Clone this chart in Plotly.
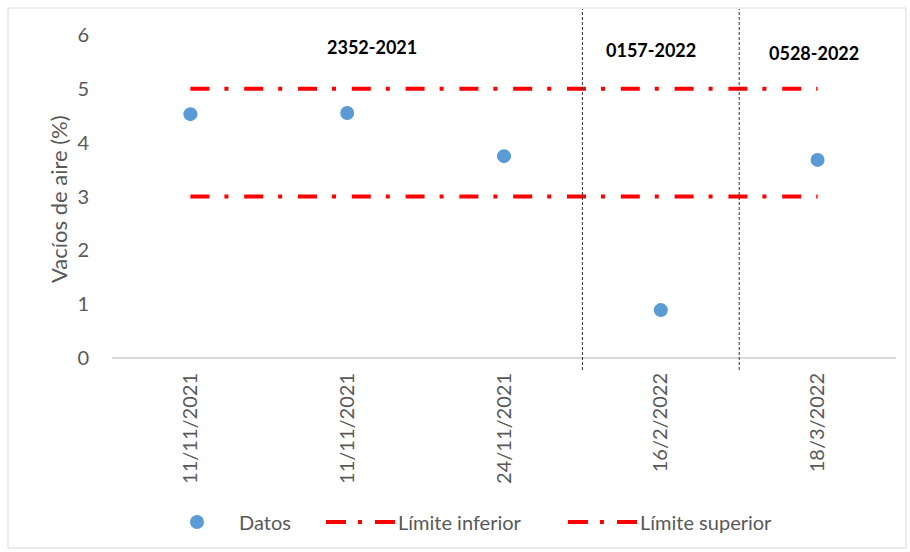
import plotly.graph_objects as go

# Fechas de ensayo (dos muestras del mismo día) y vacíos de aire medidos
fechas = ["11/11/2021", "11/11/2021", "24/11/2021", "16/2/2022", "18/3/2022"]
vacios = [4.53, 4.55, 3.75, 0.89, 3.68]
limite_inferior = [3, 3, 3, 3, 3]
limite_superior = [5, 5, 5, 5, 5]

# Contratos y su posición (centro del texto) sobre el eje de categorías
contratos = ["2352-2021", "0157-2022", "0528-2022"]
contrato_x = [1.16, 2.94, 3.98]
contrato_y = [5.78, 5.72, 5.66]
separadores = [2.5, 3.5]

W, H = 910, 552
L, R, T, B = 112, 14, 35, 194
PW, PH = W - L - R, H - T - B


def px(x):
    return (x - L) / PW


def py(y):
    return (H - B - y) / PH


FONT = "Lato"
GRIS = "#595959"
AZUL = "#5B9BD5"
ROJO = "#FF0000"
DASH = "19px,15px,4px,15.8px"

idx = list(range(len(fechas)))

fig = go.Figure()
fig.add_trace(go.Scatter(x=idx, y=limite_inferior, mode="lines", name="Límite inferior",
                         line=dict(color=ROJO, width=4, dash=DASH), showlegend=False))
fig.add_trace(go.Scatter(x=idx, y=limite_superior, mode="lines", name="Límite superior",
                         line=dict(color=ROJO, width=4, dash=DASH), showlegend=False))
fig.add_trace(go.Scatter(x=idx, y=vacios, mode="markers", name="Datos",
                         marker=dict(color=AZUL, size=14), showlegend=False))

shapes = []
# marco del gráfico
shapes.append(dict(type="rect", xref="paper", yref="paper",
                   x0=px(8), x1=px(906), y0=py(548), y1=py(8),
                   line=dict(color="#D9D9D9", width=1), layer="below"))
# separadores entre contratos
for s in separadores:
    shapes.append(dict(type="line", xref="x", yref="paper", x0=s, x1=s,
                       y0=py(370), y1=py(9),
                       line=dict(color="#303030", width=1, dash="3px,2px")))

annotations = []
for t, x, y in zip(contratos, contrato_x, contrato_y):
    annotations.append(dict(x=x, y=y, xref="x", yref="y", text="<b>%s</b>" % t,
                            showarrow=False, xanchor="center", yanchor="middle",
                            font=dict(family=FONT, size=18, color="#000000")))

# título del eje Y
annotations.append(dict(x=px(58), y=py(199), xref="paper", yref="paper",
                        text="Vacíos de aire (%)", textangle=-90, showarrow=False,
                        xanchor="center", yanchor="middle",
                        font=dict(family=FONT, size=22, color=GRIS)))

# leyenda
ly = py(522)
shapes.append(dict(type="circle", xref="paper", yref="paper", xsizemode="pixel",
                   ysizemode="pixel", xanchor=px(197), yanchor=ly,
                   x0=-7, x1=7, y0=-7, y1=7, fillcolor=AZUL, line=dict(width=0)))
annotations.append(dict(x=px(237), y=ly, xref="paper", yref="paper", text="Datos",
                        xanchor="left", yanchor="middle", showarrow=False,
                        font=dict(family=FONT, size=20, color=GRIS)))
for x0, texto in [(326, "Límite inferior"), (568, "Límite superior")]:
    shapes.append(dict(type="line", xref="paper", yref="paper",
                       x0=px(x0), x1=px(x0 + 69), y0=ly, y1=ly,
                       line=dict(color=ROJO, width=4, dash="20px,12px,4px,13px")))
    annotations.append(dict(x=px(x0 + 70), y=ly, xref="paper", yref="paper", text=texto,
                            xanchor="left", yanchor="middle", showarrow=False,
                            font=dict(family=FONT, size=20, color=GRIS)))

fig.update_layout(
    width=W, height=H,
    margin=dict(l=L, r=R, t=T, b=B),
    paper_bgcolor="white", plot_bgcolor="white",
    shapes=shapes, annotations=annotations,
    showlegend=False,
)
fig.update_xaxes(range=[-0.5, len(fechas) - 0.5], tickmode="array", tickvals=idx,
                 ticktext=fechas, tickangle=-90, showgrid=False, zeroline=False,
                 showline=False, ticks="outside", ticklen=6, tickcolor="rgba(0,0,0,0)",
                 tickfont=dict(family=FONT, size=20, color=GRIS))
fig.update_yaxes(range=[0, 6], dtick=1, showgrid=False, zeroline=True,
                 zerolinecolor="#D9D9D9", zerolinewidth=2, showline=False,
                 ticks="outside", ticklen=18, tickcolor="rgba(0,0,0,0)",
                 tickfont=dict(family=FONT, size=20, color=GRIS))

fig.write_html("out.html")
